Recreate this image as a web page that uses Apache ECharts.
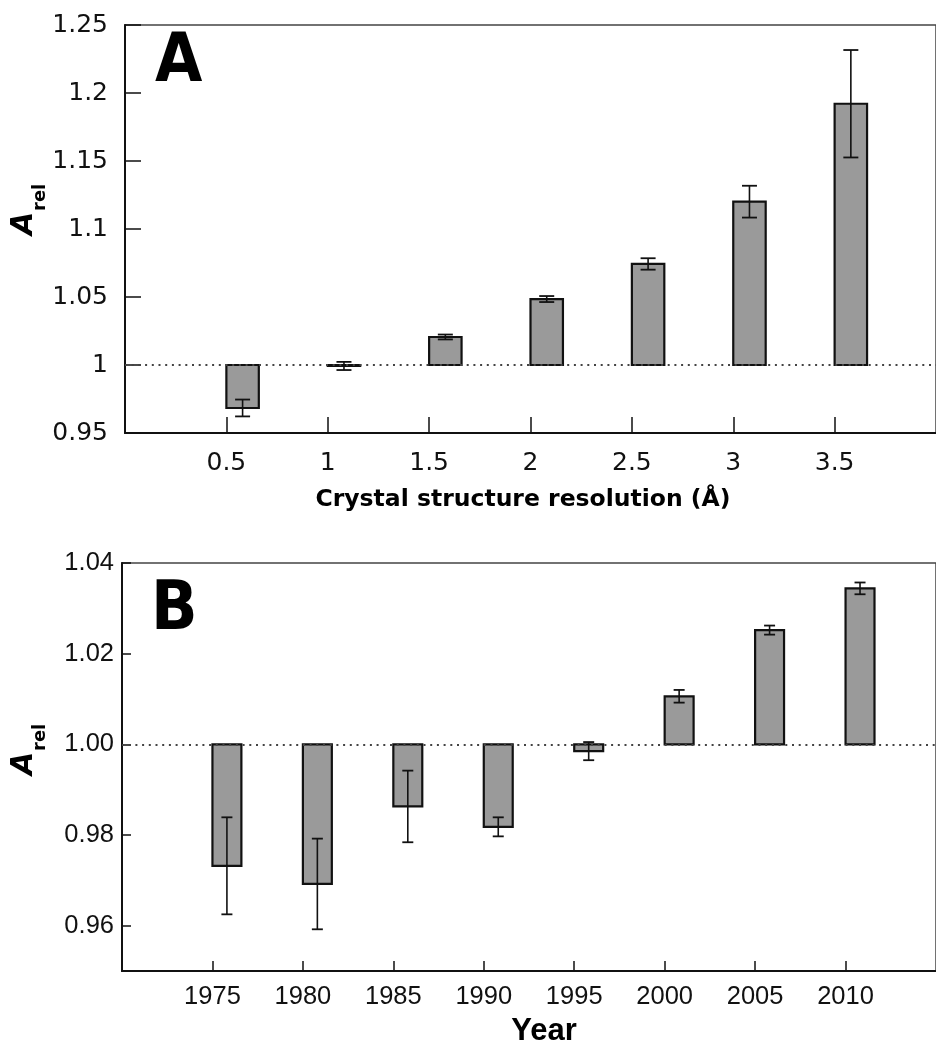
<!DOCTYPE html>
<html>
<head>
<meta charset="utf-8">
<title>Relative A by resolution and year</title>
<script src="https://cdn.jsdelivr.net/npm/echarts@6/dist/echarts.min.js"></script>
<style>
  html, body { margin: 0; padding: 0; background: #fff; }
  #chart { width: 936px; height: 1046px; }
</style>
</head>
<body>
<div id="chart"></div>
<script>
// Panel A: A_rel versus crystal structure resolution (Å)
const resolutionBins = [0.5, 1, 1.5, 2, 2.5, 3, 3.5];
const resolutionArel = [0.9684, 0.9993, 1.0206, 1.0485, 1.0743, 1.1201, 1.1921];
const resolutionErr  = [0.0062, 0.0030, 0.0018, 0.0022, 0.0042, 0.0117, 0.0395];

// Panel B: A_rel versus year of deposition
const years    = [1975, 1980, 1985, 1990, 1995, 2000, 2005, 2010];
const yearArel = [0.9732, 0.9692, 0.9863, 0.9818, 0.9985, 1.0106, 1.0252, 1.0344];
const yearErr  = [0.0107, 0.0100, 0.0079, 0.0021, 0.0020, 0.0014, 0.0010, 0.0013];

// Tick values on the A_rel axis of panel B
const yearPanelTicks = [0.96, 0.98, 1.00, 1.02, 1.04];

const BAR_FILL = '#9a9a9a';
const INK = '#111';

// Bars grow from the reference level 1.0; each bar starts at its bin value
// and spans `span` axis units, with a symmetric error bar at its centre.
function barWithError(span, capHalf) {
  return function (params, api) {
    const x = api.value(0), y = api.value(1), e = api.value(2);
    const base = api.coord([x, 1]);
    const tip = api.coord([x + span, y]);
    const xc = api.coord([x + span / 2, y])[0];
    const hi = api.coord([x + span / 2, y + e])[1];
    const lo = api.coord([x + span / 2, y - e])[1];
    const left = Math.min(base[0], tip[0]);
    const top = Math.min(base[1], tip[1]);
    return {
      type: 'group',
      children: [
        { type: 'rect',
          shape: { x: left, y: top, width: Math.abs(tip[0] - base[0]), height: Math.max(Math.abs(tip[1] - base[1]), 0.5) },
          style: { fill: BAR_FILL, stroke: INK, lineWidth: 2.2 } },
        { type: 'line', shape: { x1: xc, y1: hi, x2: xc, y2: lo }, style: { stroke: INK, lineWidth: 1.6 } },
        { type: 'line', shape: { x1: xc - capHalf, y1: hi, x2: xc + capHalf, y2: hi }, style: { stroke: INK, lineWidth: 1.8 } },
        { type: 'line', shape: { x1: xc - capHalf, y1: lo, x2: xc + capHalf, y2: lo }, style: { stroke: INK, lineWidth: 1.8 } }
      ]
    };
  };
}

const referenceLine = {
  silent: true,
  symbol: ['none', 'none'],
  label: { show: false },
  lineStyle: { color: '#444', width: 1.8, type: [2, 4.7] },
  data: [{ yAxis: 1 }]
};

const chart = echarts.init(document.getElementById('chart'), null, { renderer: 'canvas' });

chart.setOption({
  animation: false,
  grid: [
    { left: 125, top: 25, width: 816, height: 408, show: true, borderColor: '#444', borderWidth: 1.5, backgroundColor: 'transparent' },
    { left: 122, top: 563, width: 816, height: 408, show: true, borderColor: '#444', borderWidth: 1.5, backgroundColor: 'transparent' }
  ],
  xAxis: [
    {
      type: 'value', gridIndex: 0, min: 0, max: 4, interval: 0.5,
      axisLine: { lineStyle: { color: INK, width: 2 } },
      axisTick: { inside: true, length: 16, lineStyle: { color: INK, width: 1.5 }, customValues: resolutionBins },
      axisLabel: { customValues: resolutionBins, fontFamily: 'DejaVu Sans', fontSize: 25, color: INK, margin: 18 },
      splitLine: { show: false }
    },
    {
      type: 'value', gridIndex: 1, min: 1970, max: 2015, interval: 5,
      axisLine: { lineStyle: { color: INK, width: 2 } },
      axisTick: { inside: true, length: 10, lineStyle: { color: INK, width: 1.5 }, customValues: years },
      axisLabel: { customValues: years, formatter: v => String(v), fontFamily: 'Liberation Sans', fontSize: 25.5, color: INK, margin: 13 },
      splitLine: { show: false }
    }
  ],
  yAxis: [
    {
      type: 'value', gridIndex: 0, min: 0.95, max: 1.25, interval: 0.05,
      axisLine: { show: true, lineStyle: { color: INK, width: 2 } },
      axisTick: { show: true, inside: true, length: 16, lineStyle: { color: INK, width: 1.5 } },
      axisLabel: { fontFamily: 'DejaVu Sans', fontSize: 25, color: INK, margin: 17 },
      splitLine: { show: false }
    },
    {
      type: 'value', gridIndex: 1, min: 0.95, max: 1.04,
      axisLine: { show: true, lineStyle: { color: INK, width: 2 } },
      axisTick: { show: true, inside: true, length: 9, lineStyle: { color: INK, width: 1.5 }, customValues: yearPanelTicks },
      axisLabel: { customValues: yearPanelTicks, formatter: v => v.toFixed(2), fontFamily: 'Liberation Sans', fontSize: 25.5, color: INK, margin: 8 },
      splitLine: { show: false }
    }
  ],
  series: [
    {
      type: 'custom', name: 'resolution', xAxisIndex: 0, yAxisIndex: 0,
      renderItem: barWithError(0.16, 7.5),
      data: resolutionBins.map((x, i) => [x, resolutionArel[i], resolutionErr[i]]),
      markLine: referenceLine,
      z: 2
    },
    {
      type: 'custom', name: 'year', xAxisIndex: 1, yAxisIndex: 1,
      renderItem: barWithError(1.6, 5.5),
      data: years.map((x, i) => [x, yearArel[i], yearErr[i]]),
      markLine: referenceLine,
      z: 2
    }
  ],
  graphic: [
    // panel letters
    { type: 'text', x: 155, y: 63, style: { text: 'A', fontFamily: "'DejaVu Sans Condensed', 'DejaVu Sans'", fontWeight: 'bold', fontSize: 68, fill: '#000', align: 'left', verticalAlign: 'middle' } },
    { type: 'text', x: 151, y: 611, style: { text: 'B', fontFamily: "'DejaVu Sans Condensed', 'DejaVu Sans'", fontWeight: 'bold', fontSize: 68, fill: '#000', align: 'left', verticalAlign: 'middle' } },
    // axis titles
    { type: 'text', x: 523, y: 500, style: { text: 'Crystal structure resolution (Å)', fontFamily: 'DejaVu Sans', fontWeight: 'bold', fontSize: 23.5, fill: '#000', align: 'center', verticalAlign: 'middle' } },
    { type: 'text', x: 544, y: 1031, style: { text: 'Year', fontFamily: 'Liberation Sans', fontWeight: 'bold', fontSize: 31, fill: '#000', align: 'center', verticalAlign: 'middle' } },
    // A_rel, panel A
    { type: 'text', x: 24.5, y: 235, rotation: Math.PI / 2, style: { text: 'A', fontFamily: 'DejaVu Sans', fontWeight: 'bold', fontStyle: 'italic', fontSize: 30, fill: '#000', align: 'left', verticalAlign: 'middle' } },
    { type: 'text', x: 40.5, y: 211, rotation: Math.PI / 2, style: { text: 'rel', fontFamily: 'DejaVu Sans', fontWeight: 'bold', fontSize: 18, fill: '#000', align: 'left', verticalAlign: 'middle' } },
    // A_rel, panel B
    { type: 'text', x: 24.5, y: 775, rotation: Math.PI / 2, style: { text: 'A', fontFamily: 'DejaVu Sans', fontWeight: 'bold', fontStyle: 'italic', fontSize: 30, fill: '#000', align: 'left', verticalAlign: 'middle' } },
    { type: 'text', x: 40.5, y: 751, rotation: Math.PI / 2, style: { text: 'rel', fontFamily: 'DejaVu Sans', fontWeight: 'bold', fontSize: 18, fill: '#000', align: 'left', verticalAlign: 'middle' } }
  ]
});
</script>
</body>
</html>
